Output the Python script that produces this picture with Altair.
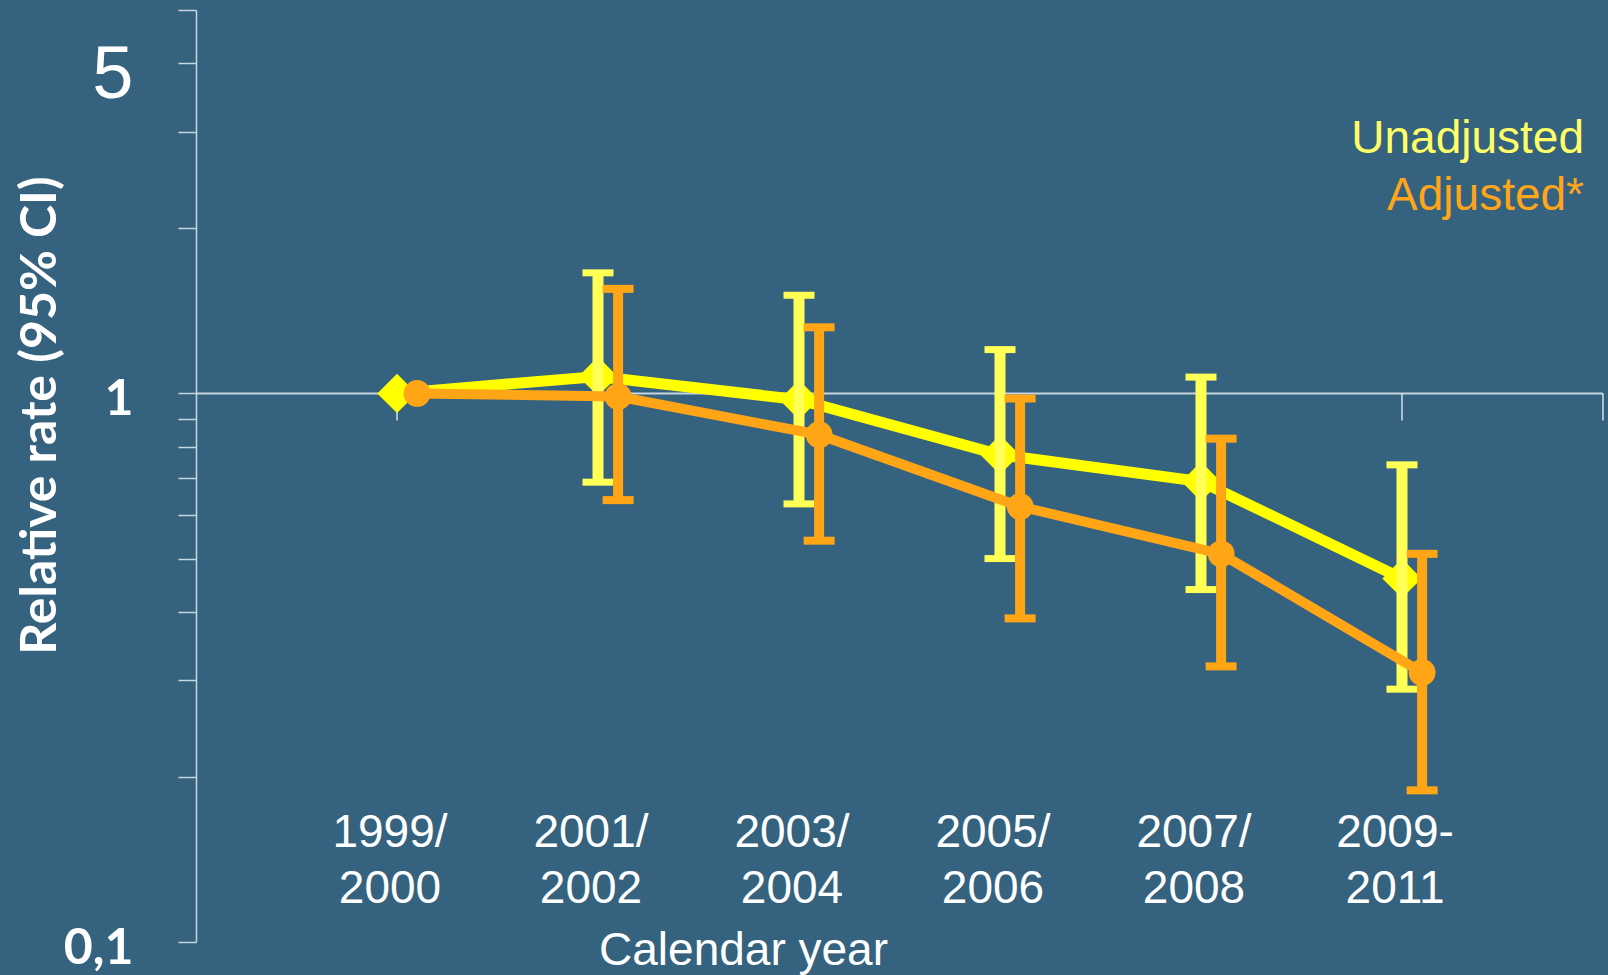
import altair as alt
import pandas as pd

# ---- data ----
periods_line1 = ["1999/", "2001/", "2003/", "2005/", "2007/", "2009-"]
periods_line2 = ["2000", "2002", "2004", "2006", "2008", "2011"]
period_index = [1, 2, 3, 4, 5, 6]

unadj = [1.0, 1.074, 0.974, 0.773, 0.691, 0.460]
unadj_lo = [None, 0.689, 0.629, 0.500, 0.439, 0.289]
unadj_hi = [None, 1.659, 1.510, 1.202, 1.071, 0.741]

adj = [1.0, 0.987, 0.841, 0.622, 0.510, 0.310]
adj_lo = [None, 0.639, 0.539, 0.389, 0.318, 0.189]
adj_hi = [None, 1.551, 1.320, 0.979, 0.827, 0.510]

series_names = ["Unadjusted", "Adjusted*"]
y_ticks = [0.1, 0.2, 0.3, 0.4, 0.5, 0.6, 0.7, 0.8, 0.9, 1, 2, 3, 4, 5]
x_ref_ticks = [1, 2, 3, 4, 5, 6, 7]

# ---- styling ----
BG = "#35627F"
YEL = "#FFFF00"
YEL_BAR = "#FFFF55"
ORA = "#FFA516"
AXIS_COL = "#C9D5DE"
ADJ_SHIFT = 0.1

rows = []
for i, idx in enumerate(period_index):
    rows.append(dict(idx=idx, series=series_names[0], value=unadj[i], lo=unadj_lo[i], hi=unadj_hi[i]))
    rows.append(dict(idx=idx, series=series_names[1], value=adj[i], lo=adj_lo[i], hi=adj_hi[i]))
df = pd.DataFrame(rows)
df["xpos"] = df["idx"] + df["series"].map({series_names[0]: 0.0, series_names[1]: ADJ_SHIFT})

xscale = alt.Scale(domain=[0, 7], nice=False, zero=False)
yscale = alt.Scale(type="log", domain=[0.1, 5], nice=False)

x_axis = alt.Axis(
    title="Calendar year", labels=False, ticks=False, domain=False, grid=False,
    titleX=547, titleY=22, titleBaseline="alphabetic", titleAlign="center",
    titleFont="Liberation Sans", titleFontSize=46, titleFontWeight="normal",
    titleColor="white",
)

y_axis = alt.Axis(
    title="Relative rate (95% CI)",
    values=y_ticks,
    labelExpr="datum.value == 1 ? '1' : (datum.value == 0.1 ? '0,1' : (datum.value == 4 ? '5' : ''))",
    labelFont={"condition": {"test": "datum.value == 4", "value": "Liberation Sans"}, "value": "Lato"},
    labelFontWeight={"condition": {"test": "datum.value == 4", "value": "normal"}, "value": "bold"},
    labelFontSize={"condition": {"test": "datum.value == 4", "value": 74}, "value": 50},
    labelOffset={"condition": {"test": "datum.value == 4", "value": 12}, "value": 6},
    labelColor="white", labelPadding=45, labelBaseline="middle", labelAlign="right",
    labelOverlap=False, labelFlush=False,
    tickSize=18, tickColor=AXIS_COL, tickWidth=1.5,
    domainColor=AXIS_COL, domainWidth=1.5, grid=False,
    titleX=-156, titleY=405, titleAngle=270, titleAlign="center", titleBaseline="middle",
    titleFont="Lato", titleFontSize=50, titleFontWeight="bold", titleColor="white",
)

def X(field):
    return alt.X(field, type="quantitative", scale=xscale, axis=x_axis)

def Y(field):
    return alt.Y(field, type="quantitative", scale=yscale, axis=y_axis)

# reference line at 1 with its small ticks
grid_df = pd.DataFrame({"xpos": [0], "xpos2": [7], "value": [1]})
grid = alt.Chart(grid_df).mark_rule(color=AXIS_COL, strokeWidth=2).encode(
    x=X("xpos"), x2="xpos2", y=Y("value")
)
tick_df = pd.DataFrame({"xpos": x_ref_ticks, "value": [1] * len(x_ref_ticks)})
ref_ticks = alt.Chart(tick_df).mark_rule(color="white", strokeWidth=1.2, y2Offset=27).encode(
    x=X("xpos"), y=Y("value"), y2="value"
)

base = alt.Chart(df)
u = base.transform_filter(alt.datum.series == series_names[0])
a = base.transform_filter(alt.datum.series == series_names[1])
u_err = u.transform_filter("isValid(datum.lo)")
a_err = a.transform_filter("isValid(datum.lo)")

u_line = u.mark_line(color=YEL, strokeWidth=11).encode(x=X("xpos"), y=Y("value"))
u_pts = u.mark_point(shape="diamond", filled=True, size=1550, color=YEL, opacity=1).encode(
    x=X("xpos"), y=Y("value"))
u_bar = u_err.mark_rule(color=YEL_BAR, strokeWidth=11).encode(x=X("xpos"), y=Y("lo"), y2="hi")
u_cap_lo = u_err.mark_tick(color=YEL_BAR, orient="horizontal", size=31, thickness=7, opacity=1).encode(
    x=X("xpos"), y=Y("lo"))
u_cap_hi = u_err.mark_tick(color=YEL_BAR, orient="horizontal", size=31, thickness=7, opacity=1).encode(
    x=X("xpos"), y=Y("hi"))

a_line = a.mark_line(color=ORA, strokeWidth=10).encode(x=X("xpos"), y=Y("value"))
a_pts = a.mark_circle(size=720, color=ORA, opacity=1).encode(x=X("xpos"), y=Y("value"))
a_bar = a_err.mark_rule(color=ORA, strokeWidth=10).encode(x=X("xpos"), y=Y("lo"), y2="hi")
a_cap_lo = a_err.mark_tick(color=ORA, orient="horizontal", size=31, thickness=8, opacity=1).encode(
    x=X("xpos"), y=Y("lo"))
a_cap_hi = a_err.mark_tick(color=ORA, orient="horizontal", size=31, thickness=8, opacity=1).encode(
    x=X("xpos"), y=Y("hi"))

lab_df = pd.DataFrame({
    "xpos": period_index,
    "label": [f"{p1}\n{p2}" for p1, p2 in zip(periods_line1, periods_line2)],
})
x_labels = alt.Chart(lab_df).mark_text(
    color="white", font="Liberation Sans", fontSize=46, align="center",
    baseline="alphabetic", lineBreak="\n", lineHeight=56, dx=-7,
).encode(x=X("xpos"), y=alt.value(837), text="label:N")

leg_u = alt.Chart(pd.DataFrame({"t": [series_names[0]]})).mark_text(
    color="#FFFF66", font="Liberation Sans", fontSize=46, align="right", baseline="alphabetic"
).encode(x=alt.value(1388), y=alt.value(143), text="t:N")
leg_a = alt.Chart(pd.DataFrame({"t": [series_names[1]]})).mark_text(
    color="#FFA51A", font="Liberation Sans", fontSize=46, align="right", baseline="alphabetic"
).encode(x=alt.value(1388), y=alt.value(200), text="t:N")

chart = alt.layer(
    grid, ref_ticks,
    u_line, u_pts, u_bar, u_cap_lo, u_cap_hi,
    a_line, a_pts, a_bar, a_cap_lo, a_cap_hi,
    x_labels, leg_u, leg_a,
).properties(
    width=1407, height=932,
    padding={"left": 196, "top": 10, "right": 5, "bottom": 33},
    autosize=alt.AutoSizeParams(type="none"),
    background=BG,
).configure_view(stroke=None)

chart.save("out.html", embed_options={"renderer": "svg", "actions": False})
